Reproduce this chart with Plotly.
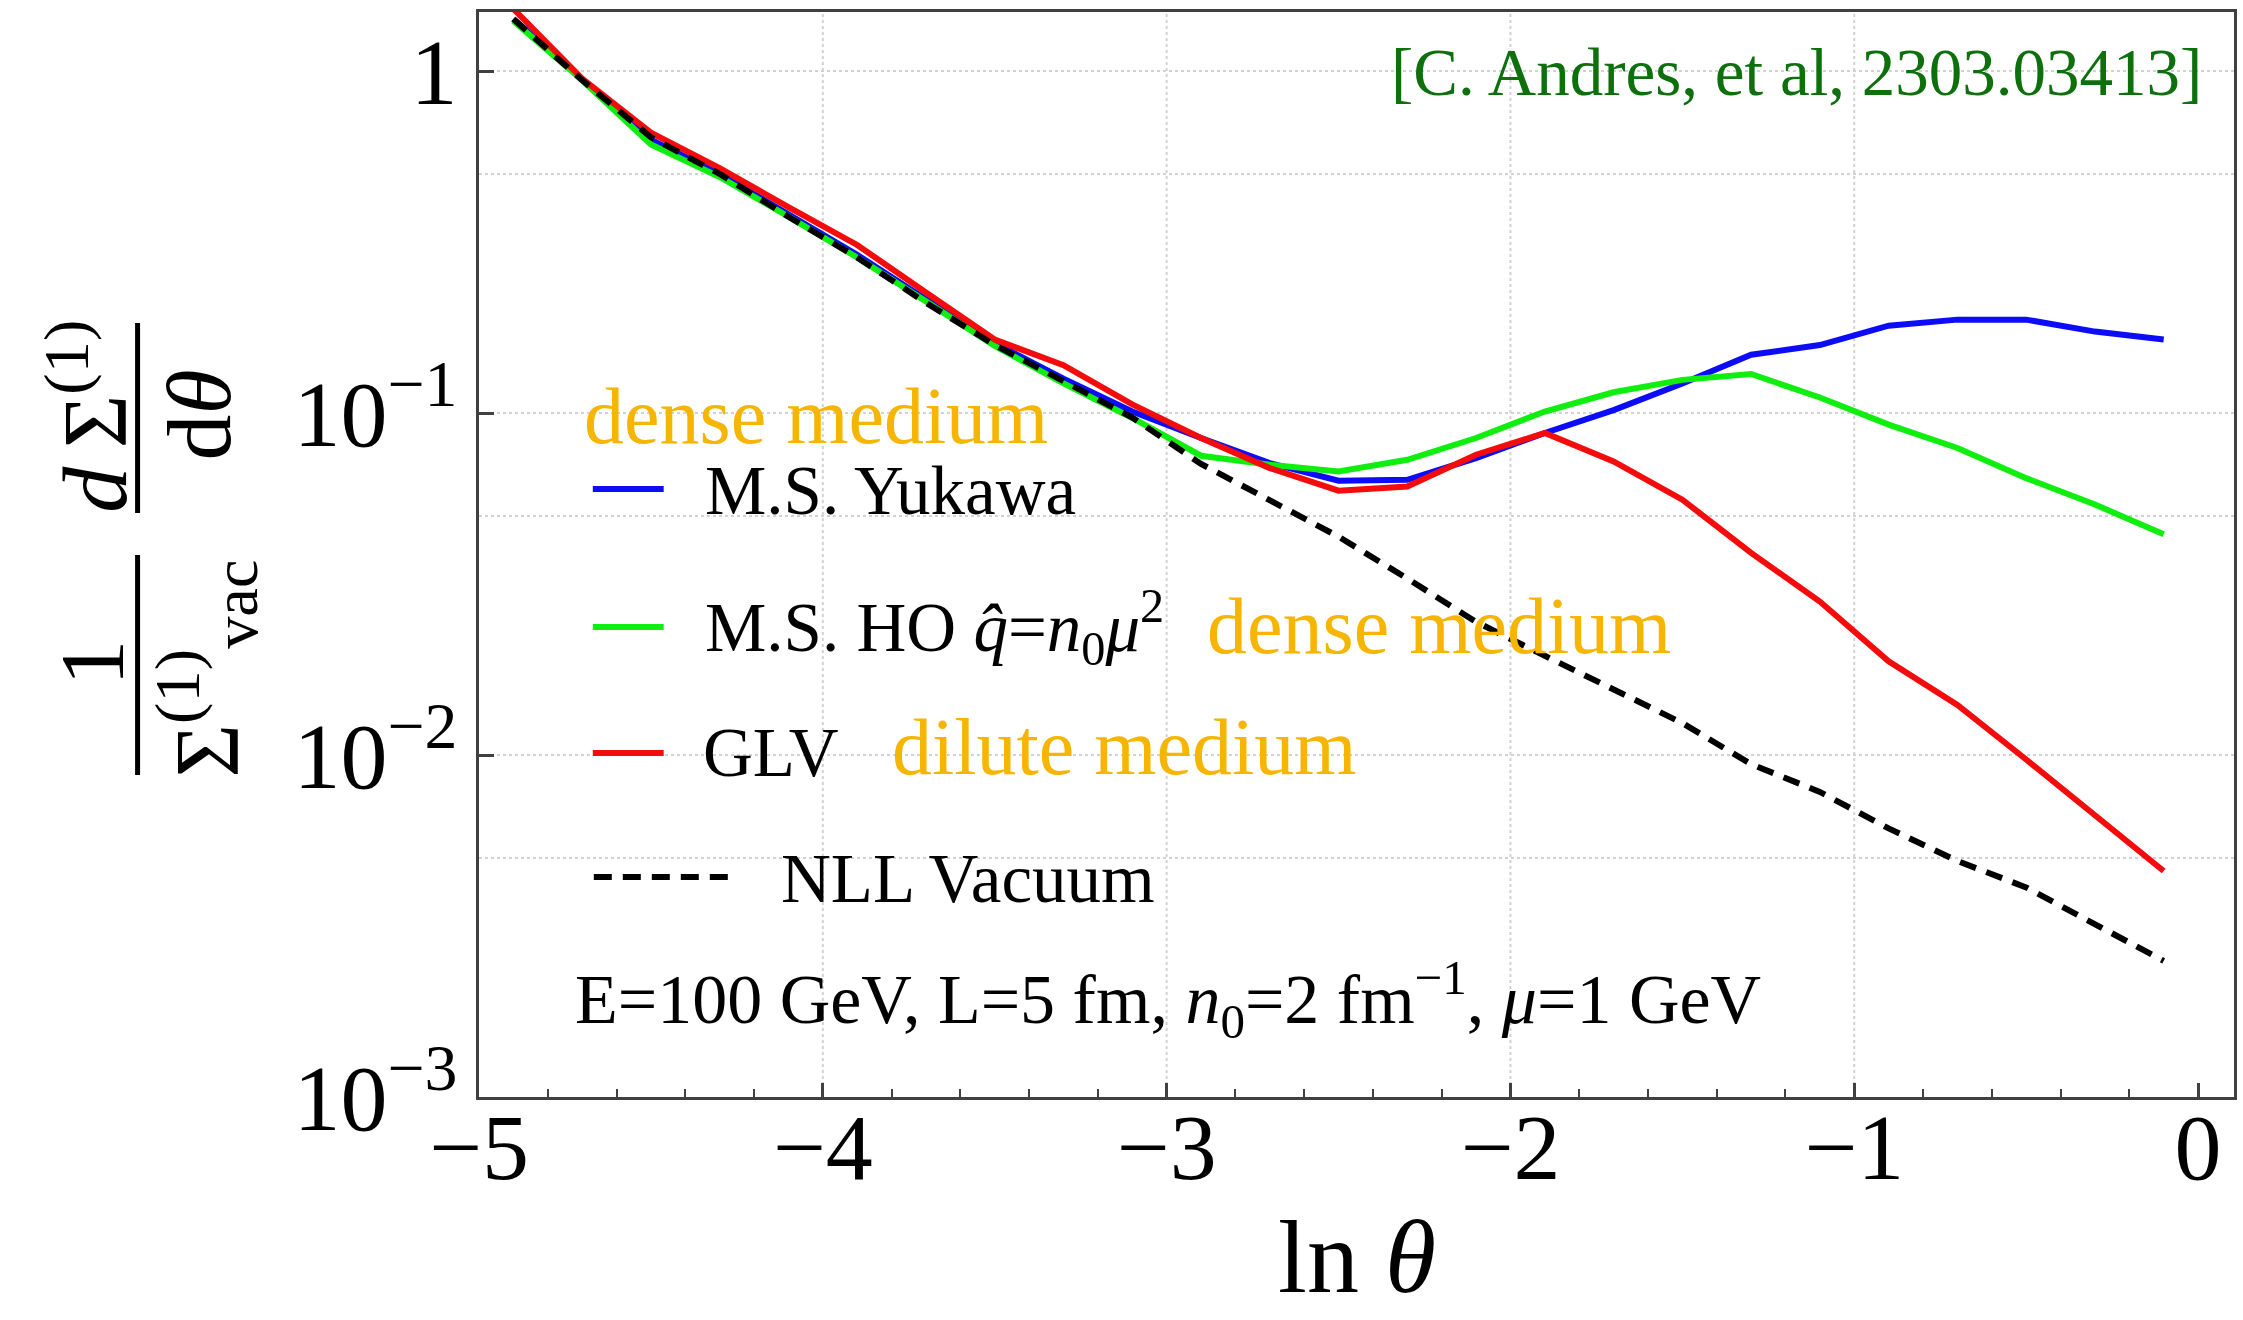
import plotly.graph_objects as go

# ---------------- data ----------------
ln_theta = [-4.9, -4.7, -4.5, -4.3, -4.1, -3.9, -3.7, -3.5, -3.3, -3.1, -2.9, -2.7, -2.5,
            -2.3, -2.1, -1.9, -1.7, -1.5, -1.3, -1.1, -0.9, -0.7, -0.5, -0.3, -0.1]

ms_yukawa = [1.42, 0.94, 0.63, 0.50, 0.38, 0.29, 0.215, 0.160, 0.126, 0.101, 0.0845, 0.0714, 0.0634,
             0.0638, 0.0738, 0.0874, 0.102, 0.122, 0.148, 0.158, 0.180, 0.1875, 0.1875, 0.173, 0.164]

ms_ho = [1.40, 0.94, 0.61, 0.49, 0.375, 0.285, 0.212, 0.157, 0.122, 0.0967, 0.075, 0.0706, 0.0675,
         0.073, 0.0845, 0.101, 0.115, 0.125, 0.130, 0.111, 0.0925, 0.079, 0.0645, 0.054, 0.0442]

glv = [1.52, 0.95, 0.66, 0.52, 0.40, 0.31, 0.225, 0.164, 0.138, 0.106, 0.0845, 0.069, 0.0593,
       0.061, 0.0755, 0.0874, 0.0722, 0.0558, 0.039, 0.0281, 0.0188, 0.0140, 0.0097, 0.0067, 0.00458]

nll_vacuum = [1.42, 0.94, 0.64, 0.50, 0.375, 0.285, 0.21, 0.158, 0.124, 0.097, 0.071, 0.0555, 0.0435,
              0.0328, 0.0245, 0.0195, 0.0155, 0.0124, 0.0094, 0.0078, 0.0061, 0.0049, 0.0041, 0.0032, 0.0025]

x_tick_vals = [-5, -4, -3, -2, -1, 0]
y_tick_vals = [0.001, 0.01, 0.1, 1]
y_tick_text = ["10<sup>\u22123</sup>", "10<sup>\u22122</sup>", "10<sup>\u22121</sup>", "1"]
y_minor_grid = [0.005, 0.05, 0.5]
x_grid_vals = [-4, -3, -2, -1]

# ---------------- layout geometry (pixels) ----------------
W, H = 2243, 1320
L, R, T, B = 479, 2237, 12, 1097
FONT = "Liberation Serif, Times New Roman, serif"
BLUE, GREEN, RED = "#0c0cf8", "#10ee10", "#f40c0c"
ORANGE = "#f6b500"
CITE = "#0d700d"


def px(x):
    return (x - L) / (R - L)


def py(y):
    return (B - y) / (B - T)


fig = go.Figure()
fig.add_trace(go.Scatter(x=ln_theta, y=ms_yukawa, mode="lines", name="M.S. Yukawa",
                         line=dict(color=BLUE, width=6)))
fig.add_trace(go.Scatter(x=ln_theta, y=ms_ho, mode="lines", name="M.S. HO",
                         line=dict(color=GREEN, width=6)))
fig.add_trace(go.Scatter(x=ln_theta, y=glv, mode="lines", name="GLV",
                         line=dict(color=RED, width=6)))
fig.add_trace(go.Scatter(x=ln_theta, y=nll_vacuum, mode="lines", name="NLL Vacuum",
                         line=dict(color="black", width=6, dash="17px,11px")))

x_range = [-5, -5 + (R - L) / 344.4]
y_range = [-3, -3 + (B - T) / 342.0]

fig.update_xaxes(range=x_range, tickmode="array", tickvals=x_tick_vals,
                 ticks="inside", ticklen=14, tickwidth=2.5, tickcolor="#404040",
                 showline=True, linecolor="#404040", linewidth=2.5, mirror=True,
                 showgrid=False, zeroline=False, ticklabelstandoff=-34,
                 tickfont=dict(family=FONT, size=94, color="black"),
                 minor=dict(dtick=0.2, tick0=-5, ticks="inside", ticklen=8,
                            tickwidth=2, tickcolor="#404040", showgrid=False))
fig.update_yaxes(type="log", range=y_range, tickmode="array", tickvals=y_tick_vals,
                 ticktext=y_tick_text, ticks="inside", ticklen=15, tickwidth=2.5,
                 tickcolor="#404040", showline=True, linecolor="#404040", linewidth=2.5,
                 mirror=True, showgrid=True, gridcolor="#d2d2d2", gridwidth=2,
                 griddash="dot", zeroline=False,
                 tickfont=dict(family=FONT, size=94, color="black"),
                 minor=dict(tickmode="array", tickvals=y_minor_grid, ticks="",
                            showgrid=True, gridcolor="#d2d2d2", gridwidth=2, griddash="dot"))

shapes = []
for gx in x_grid_vals:
    shapes.append(dict(type="line", xref="x", yref="paper", x0=gx, x1=gx, y0=0, y1=1,
                       line=dict(color="#d2d2d2", width=2, dash="dot"), layer="below"))

# legend samples
legend_rows = [(BLUE, 489, 593, 664, None), (GREEN, 627, 593, 664, None),
               (RED, 753, 593, 664, None), ("black", 877, 594, 737, "18px,11px")]
for col, yy, xa, xb, dsh in legend_rows:
    ln = dict(color=col, width=6)
    if dsh:
        ln["dash"] = dsh
    shapes.append(dict(type="line", xref="paper", yref="paper", x0=px(xa), x1=px(xb),
                       y0=py(yy), y1=py(yy), line=ln))

# y-label fraction bars
shapes.append(dict(type="line", xref="paper", yref="paper", x0=px(137), x1=px(137),
                   y0=py(555), y1=py(775), line=dict(color="black", width=5)))
shapes.append(dict(type="line", xref="paper", yref="paper", x0=px(137), x1=px(137),
                   y0=py(323), y1=py(513), line=dict(color="black", width=5)))

annotations = []


def text_at(txt, x, baseline, size, color="black", xanchor="left"):
    annotations.append(dict(text=txt, xref="paper", yref="paper", x=px(x),
                            y=py(baseline - 0.3375 * size), xanchor=xanchor, yanchor="middle",
                            showarrow=False, font=dict(family=FONT, size=size, color=color)))


def rot_at(txt, cx, cy, size):
    annotations.append(dict(text=txt, xref="paper", yref="paper", x=px(cx), y=py(cy),
                            xanchor="center", yanchor="middle", textangle=-90,
                            showarrow=False, font=dict(family=FONT, size=size, color="black")))


text_at("dense medium", 582, 443, 80, ORANGE)
text_at("M.S. Yukawa", 703, 514, 69)
text_at("M.S. HO <i>q\u0302</i>=<i>n</i><sub>0</sub><i>\u03bc</i><sup>2</sup>", 703, 650, 69)
text_at("dense medium", 1206, 653, 80, ORANGE)
text_at("GLV", 701, 776, 69)
text_at("dilute medium", 891, 774, 80, ORANGE)
text_at("NLL Vacuum", 780, 902, 69)
text_at("E=100 GeV, L=5 fm, <i>n</i><sub>0</sub>=2 fm<sup>\u22121</sup>, <i>\u03bc</i>=1 GeV",
        573, 1023, 70)
text_at("[C. Andres, et al, 2303.03413]", 2207, 95, 67, CITE, xanchor="right")
text_at("ln <i>\u03b8</i>", 1359, 1292, 104, xanchor="center")

# y-axis label as stacked rotated fractions
rot_at("1", 91, 663, 92)
rot_at("\u03a3<sup>(1)</sup><sub>vac</sub>", 206, 668, 92)
rot_at("<i>d</i>\u2009\u03a3<sup>(1)</sup>", 88, 416, 92)
rot_at("d<i>\u03b8</i>", 199, 415, 92)

fig.update_layout(width=W, height=H, margin=dict(l=L, r=W - R, t=T, b=H - B),
                  plot_bgcolor="white", paper_bgcolor="white", showlegend=False,
                  shapes=shapes, annotations=annotations,
                  font=dict(family=FONT, color="black"))

fig.write_html("out.html")
